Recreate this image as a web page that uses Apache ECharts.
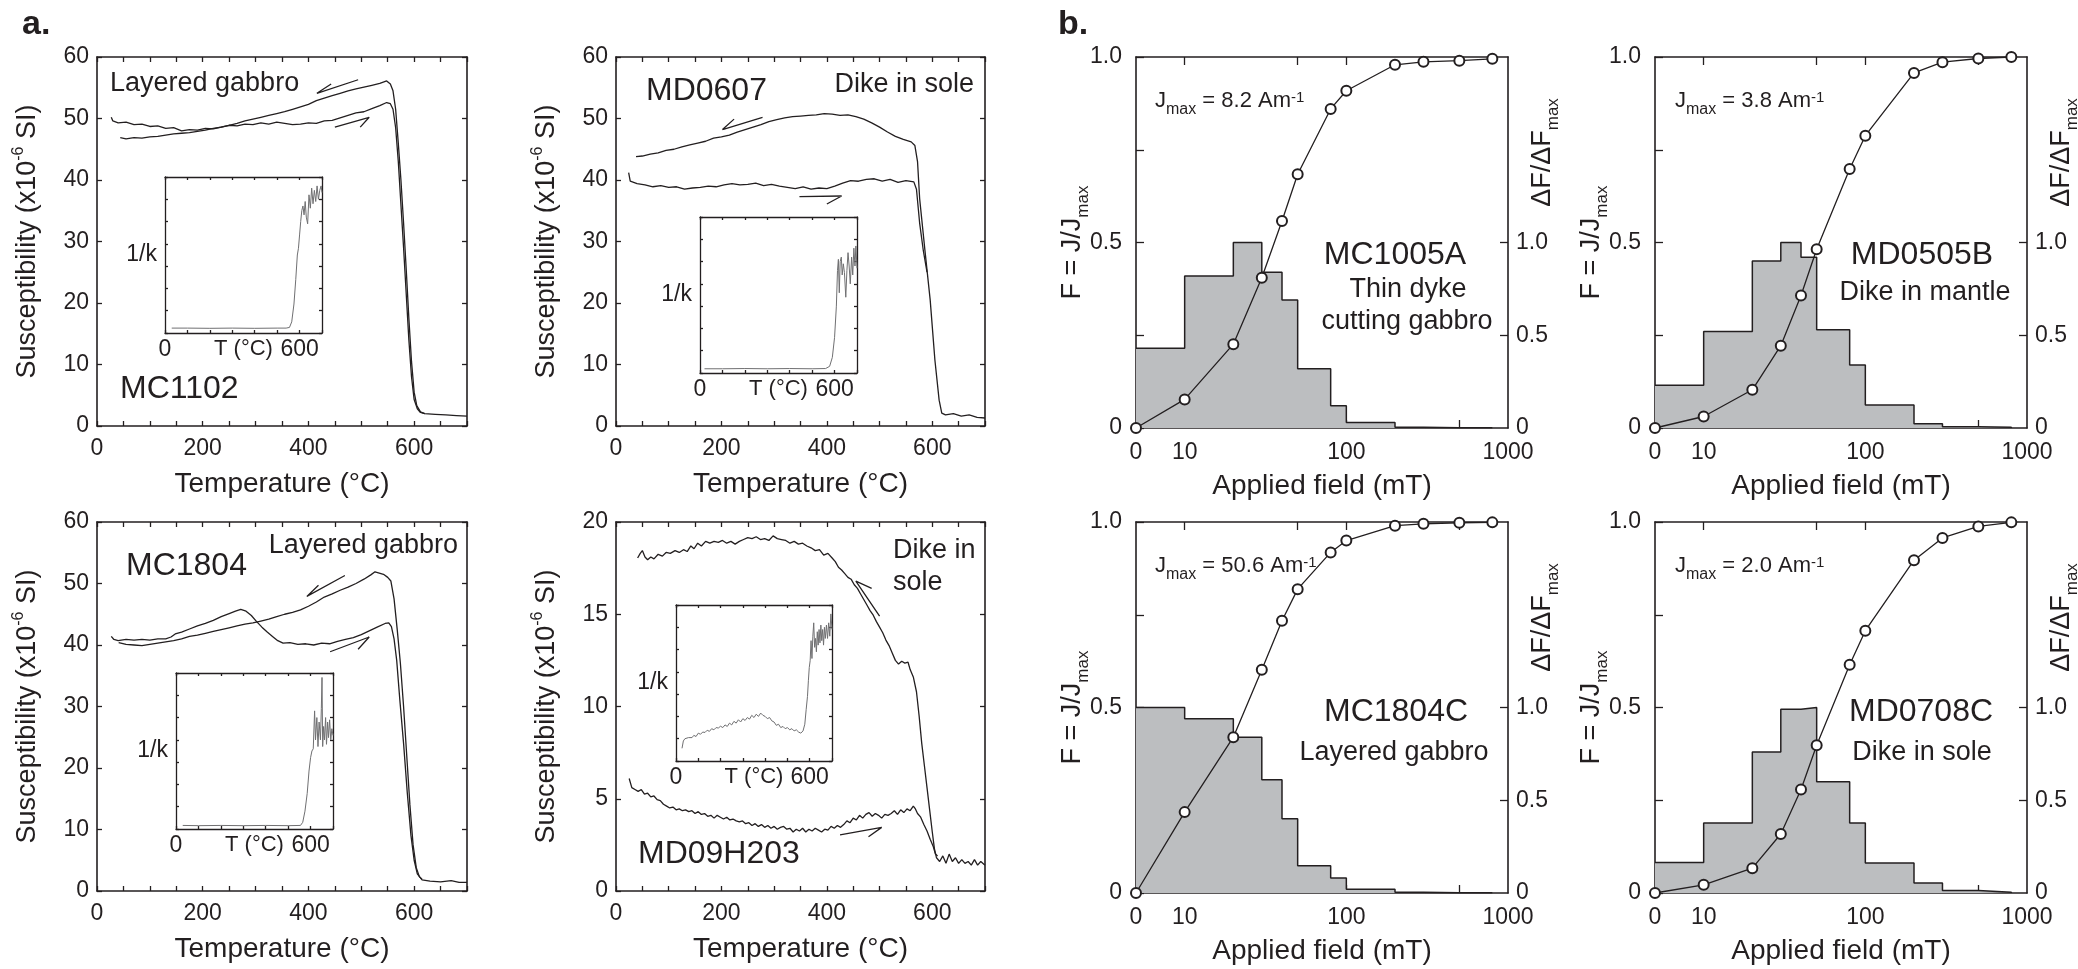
<!DOCTYPE html>
<html>
<head>
<meta charset="utf-8">
<title>Thermomagnetic curves and IRM acquisition</title>
<script src="https://cdn.jsdelivr.net/npm/echarts@6.0.0/dist/echarts.min.js"></script>
<style>
  html, body { margin: 0; padding: 0; background: #fff; }
  #chart { width: 2078px; height: 969px; }
</style>
</head>
<body>
<div id="chart"></div>
<script>
// ---------- a. susceptibility vs temperature (T in °C, k in 1e-6 SI) ----------
const heatMC1102 = [[27,50.2],[30,49.6],[40,49.3],[55,49.4],[70,49.0],[85,49.1],[100,48.7],[115,48.8],[130,48.4],[145,48.5],[160,48.0],[175,48.2],[190,48.1],[205,48.4],[220,48.3],[235,48.6],[250,48.9],[265,48.8],[280,49.1],[295,49.0],[310,49.3],[325,49.1],[340,49.4],[355,49.2],[370,49.0],[385,49.1],[400,49.3],[415,49.2],[430,49.6],[445,49.7],[460,50.1],[475,50.5],[490,50.9],[505,51.1],[520,51.6],[535,52.1],[548,52.6],[555,52.4],[560,51.5],[565,48.5],[570,43],[575,36],[580,29],[585,21.5],[590,14],[595,8],[600,4.3],[606,2.8],[612,2.2],[620,2.0],[640,1.9],[660,1.8],[680,1.7],[700,1.6]];
const coolMC1102 = [[44,46.9],[55,46.7],[70,46.9],[85,46.8],[100,47.0],[115,47.1],[130,47.3],[145,47.5],[160,47.6],[175,47.7],[190,47.9],[205,48.1],[220,48.4],[235,48.6],[250,48.9],[265,49.2],[280,49.6],[295,49.9],[310,50.2],[325,50.5],[340,50.8],[355,51.1],[370,51.5],[385,51.9],[400,52.3],[415,52.9],[430,53.3],[445,53.7],[460,54.1],[475,54.5],[490,54.8],[505,55.1],[520,55.4],[535,55.7],[548,56.1],[555,55.6],[560,54.5],[565,51.5],[570,46],[575,40],[580,33],[585,25.5],[590,17.5],[595,10.5],[600,5.5],[605,3.3],[612,2.3],[620,2.0]];
const invMC1102 = [[30,0.22],[100,0.22],[200,0.21],[300,0.22],[400,0.21],[500,0.22],[540,0.22],[555,0.25],[565,0.5],[575,1.3],[583,2.4],[590,3.5],[595,3.8],[600,4.4],[605,5.0],[610,5.5],[615,5.7],[620,5.3],[625,5.9],[630,5.2],[636,4.9],[642,6.2],[648,5.6],[654,6.5],[660,5.8],[666,6.4],[672,5.9],[678,6.6],[684,6.0],[690,6.4],[696,6.6],[700,6.3]];

const coolMD0607 = [[38,43.8],[50,43.9],[65,44.2],[80,44.4],[95,44.8],[110,45.0],[125,45.4],[140,45.7],[155,46.0],[170,46.3],[185,46.8],[200,47.0],[215,47.3],[230,47.8],[245,48.2],[260,48.6],[275,49.0],[290,49.5],[305,49.8],[320,50.1],[335,50.3],[350,50.4],[365,50.5],[380,50.6],[395,50.8],[410,50.7],[425,50.5],[440,50.6],[455,50.3],[470,49.9],[485,49.3],[500,48.6],[515,47.8],[530,47.1],[545,46.6],[560,46.2],[567,45.6],[572,43],[576,37],[586,28.6],[596,20.5],[605,10.7],[613,4.2],[618,2.1],[625,1.8],[640,2.0],[655,1.6],[670,1.8],[685,1.4],[700,1.3]];
const heatMD0607 = [[24,41.2],[27,39.8],[40,39.4],[55,39.2],[70,38.9],[85,39.1],[100,38.8],[115,38.9],[130,38.5],[145,38.7],[160,38.8],[175,39.0],[190,38.9],[205,39.2],[220,39.4],[235,39.2],[250,39.3],[265,39.5],[280,39.1],[295,39.3],[310,39.0],[325,38.8],[340,38.6],[355,38.9],[370,38.5],[385,38.7],[400,38.6],[415,39.0],[430,39.5],[445,39.9],[460,39.8],[475,40.1],[490,40.2],[505,39.8],[520,40.1],[535,39.6],[550,39.9],[565,39.7],[570,38.5],[576,33],[583,28.5],[590,25]];
const invMD0607 = [[20,0.19],[100,0.19],[200,0.2],[300,0.19],[400,0.2],[500,0.19],[560,0.2],[578,0.3],[590,0.7],[600,1.6],[608,3.0],[613,4.6],[617,5.1],[621,3.6],[625,5.0],[630,5.2],[634,4.4],[639,4.9],[644,4.5],[650,3.4],[655,4.6],[660,5.4],[665,4.8],[670,4.0],[676,5.2],[681,4.4],[686,5.6],[691,4.8],[695,5.7],[700,4.7]];

const heatMC1804 = [[27,41.4],[32,40.9],[40,40.7],[55,40.9],[70,40.8],[85,40.9],[100,40.8],[115,41.0],[130,41.0],[140,41.3],[148,41.8],[160,42.1],[175,42.6],[190,43.1],[205,43.5],[220,44.0],[235,44.6],[250,45.1],[262,45.5],[272,45.8],[282,45.5],[292,44.8],[302,43.8],[312,42.9],[322,42.1],[332,41.4],[342,40.7],[352,40.3],[365,40.4],[380,40.1],[395,40.2],[410,40.0],[425,40.3],[440,40.2],[455,40.6],[470,40.9],[485,41.2],[500,41.7],[515,42.3],[530,42.9],[545,43.5],[552,43.6],[557,43.0],[562,41.0],[567,37.5],[573,31],[580,24],[587,16],[594,9],[600,5],[606,2.8],[615,1.8],[630,1.6],[650,1.5],[670,1.7],[685,1.4],[700,1.4]];
const coolMC1804 = [[41,40.4],[55,40.1],[70,40.0],[85,39.9],[100,40.1],[115,40.3],[130,40.5],[145,40.7],[160,41.0],[175,41.4],[190,41.6],[205,41.9],[220,42.2],[235,42.5],[250,42.8],[265,43.1],[280,43.4],[295,43.6],[310,43.9],[325,44.2],[340,44.6],[355,45.0],[370,45.3],[385,45.7],[400,46.3],[415,47.0],[430,47.8],[445,48.3],[460,48.9],[475,49.4],[490,50.0],[505,50.7],[518,51.4],[526,51.9],[534,51.7],[542,51.5],[550,51.0],[556,50.4],[562,47.5],[568,42.5],[574,37],[580,30],[586,22],[592,14],[598,7.5],[604,3.8],[610,2.3],[615,1.9]];
const invMC1804 = [[30,0.16],[100,0.15],[200,0.16],[300,0.15],[400,0.16],[500,0.15],[555,0.16],[565,0.3],[575,0.8],[585,1.6],[593,2.6],[600,3.2],[606,3.5],[612,3.6],[618,5.3],[622,4.0],[628,5.0],[633,3.7],[638,4.8],[644,4.0],[648,5.4],[651,6.8],[654,3.7],[658,4.6],[662,4.0],[667,5.0],[671,3.8],[676,4.8],[680,4.1],[685,4.9],[690,4.0],[695,4.5],[700,4.2]];

const coolMD09H203 = [[41,18.05],[46,18.3],[50,18.45],[55,18.1],[60,17.95],[66,18.1],[72,18.0],[80,18.25],[88,18.15],[95,18.35],[103,18.3],[112,18.45],[120,18.35],[128,18.5],[135,18.4],[142,18.7],[148,18.55],[155,18.85],[162,18.7],[170,18.95],[178,18.85],[186,18.95],[194,18.9],[202,19.0],[210,18.85],[218,18.95],[226,18.8],[234,18.95],[242,19.05],[250,19.15],[258,19.1],[266,19.2],[274,19.05],[282,19.1],[290,19.0],[298,19.25],[306,19.1],[314,19.05],[322,19.0],[330,18.85],[338,18.95],[346,18.8],[354,18.85],[362,18.7],[370,18.6],[378,18.45],[386,18.5],[394,18.2],[402,18.3],[410,18.05],[416,17.85],[422,17.55],[428,17.4],[434,17.2],[440,17.0],[446,16.9],[452,16.6],[458,16.4],[464,16.1],[470,15.8],[476,15.5],[482,15.2],[488,14.95],[494,14.6],[500,14.3],[506,14.0],[512,13.6],[518,13.3],[524,12.9],[530,12.5],[536,12.3],[542,12.45],[548,12.35],[554,12.4],[558,12.0],[564,11.6],[570,10.8],[575,9.5],[580,8.0],[585,6.8],[590,5.6],[595,4.4],[600,3.2],[604,2.3],[608,1.8],[614,1.6],[620,1.9],[626,1.5],[632,2.0],[638,1.6],[644,1.8],[650,1.5],[656,1.7],[662,1.5],[668,1.6],[674,1.4],[680,1.7],[686,1.4],[692,1.6],[700,1.4]];
const heatMD09H203 = [[25,6.1],[30,5.6],[36,5.5],[42,5.4],[48,5.5],[54,5.25],[60,5.3],[66,5.1],[72,5.15],[78,4.95],[84,4.9],[90,4.7],[96,4.6],[102,4.5],[108,4.55],[114,4.4],[120,4.45],[126,4.35],[132,4.4],[138,4.3],[144,4.35],[150,4.2],[156,4.3],[162,4.15],[168,4.2],[174,4.05],[180,4.1],[186,3.95],[192,4.1],[198,4.0],[204,3.9],[210,4.0],[216,3.85],[222,3.9],[228,3.8],[234,3.75],[240,3.8],[246,3.65],[252,3.7],[258,3.55],[264,3.65],[270,3.5],[276,3.6],[282,3.45],[288,3.55],[294,3.4],[300,3.5],[306,3.35],[312,3.45],[318,3.5],[324,3.35],[330,3.4],[336,3.2],[342,3.35],[348,3.25],[354,3.4],[360,3.2],[366,3.35],[372,3.25],[378,3.4],[384,3.3],[390,3.2],[396,3.35],[402,3.3],[408,3.5],[414,3.4],[420,3.55],[426,3.45],[432,3.6],[438,3.8],[444,3.7],[450,3.95],[456,3.85],[462,4.1],[468,3.95],[474,4.15],[480,4.25],[486,4.05],[492,4.2],[498,4.1],[504,3.95],[510,4.15],[516,4.1],[522,4.2],[528,4.35],[534,4.15],[540,4.4],[546,4.25],[552,4.45],[558,4.35],[564,4.6],[568,4.45],[572,4.2],[578,4.0],[584,3.6],[590,3.25],[596,2.8],[602,2.4],[606,2.0],[610,1.9]];
const invMD09H203 = [[27,0.57],[33,0.9],[40,1.0],[48,0.95],[56,1.05],[64,1.1],[72,1.05],[80,1.15],[90,1.1],[100,1.25],[110,1.2],[120,1.3],[130,1.28],[140,1.38],[150,1.33],[160,1.45],[170,1.4],[180,1.5],[190,1.48],[200,1.56],[210,1.5],[220,1.62],[230,1.55],[240,1.7],[250,1.62],[260,1.78],[270,1.7],[280,1.85],[290,1.75],[300,1.9],[310,1.82],[320,1.95],[330,1.88],[340,2.05],[350,1.95],[360,2.1],[370,2.0],[380,2.15],[390,2.05],[400,2.0],[410,1.9],[420,1.95],[430,1.8],[440,1.75],[450,1.6],[460,1.65],[470,1.5],[480,1.55],[490,1.45],[500,1.5],[510,1.4],[520,1.45],[530,1.35],[540,1.4],[550,1.3],[560,1.25],[570,1.35],[578,1.65],[584,2.3],[590,2.9],[594,3.6],[598,4.2],[602,4.5],[606,5.4],[610,4.6],[614,5.6],[618,6.2],[622,5.1],[626,5.5],[630,4.9],[634,5.8],[638,5.2],[642,5.9],[646,5.3],[650,6.1],[654,5.4],[658,5.9],[662,5.2],[666,6.0],[670,5.5],[675,6.1],[680,5.5],[685,6.2],[690,5.6],[695,6.6],[700,5.9]];

// heating / cooling half-arrows: [barb end, tip, tail] in data units
const arrowsMC1102 = [[[443,55.6],[416,54.1],[494,56.3]], [[498,48.6],[515,50.2],[450,48.6]]];
const arrowsMD0607 = [[[224,49.9],[202,48.2],[278,50.2]], [[400,36.1],[428,37.4],[348,37.3]]];
const arrowsMC1804 = [[[419,49.7],[397,47.9],[469,51.3]], [[494,39.3],[515,41.3],[441,38.9]]];
const arrowsMD09H203 = [[[485,16.4],[455,16.8],[500,14.9]], [[479,2.94],[504,3.45],[425,3.04]]];

// ---------- b. IRM acquisition (field in mT) ----------
const FIELD_ZERO = 5;                       // where "0" sits on the log axis
const fieldLevels = [0, 10, 20, 30, 40, 50, 80, 100, 200, 300, 500, 800];
const fieldTickLabels = [FIELD_ZERO, 10, 100, 1000];
const fieldTicks = [10, 50, 100, 500];

const fMC1005A = [0, 0.077, 0.226, 0.405, 0.558, 0.684, 0.86, 0.909, 0.979, 0.987, 0.99, 0.995];
const histMC1005A = [0.43, 0.82, 1.0, 0.84, 0.69, 0.32, 0.12, 0.03, 0.004, 0.002, 0.001];
const fMD0505B = [0, 0.031, 0.103, 0.222, 0.357, 0.482, 0.698, 0.788, 0.957, 0.986, 0.996, 1.0];
const histMD0505B = [0.23, 0.52, 0.90, 1.0, 0.92, 0.53, 0.34, 0.124, 0.023, 0.007, 0.004];
const fMC1804C = [0, 0.218, 0.42, 0.602, 0.734, 0.819, 0.918, 0.95, 0.99, 0.995, 0.998, 0.999];
const histMC1804C = [1.0, 0.94, 0.84, 0.61, 0.40, 0.147, 0.081, 0.02, 0.004, 0.002, 0.001];
const fMD0708C = [0, 0.022, 0.067, 0.159, 0.279, 0.398, 0.615, 0.707, 0.897, 0.957, 0.988, 0.999];
const histMD0708C = [0.165, 0.377, 0.76, 0.99, 1.0, 0.60, 0.377, 0.162, 0.054, 0.014, 0.004];

const INK = '#231f20';
const FONT = '"Liberation Sans", Arial, Helvetica, sans-serif';

const grids = [];
const xAxes = [];
const yAxes = [];
const series = [];

const frameLine = w => ({ onZero: false, lineStyle: { color: INK, width: w } });
const axisLine = frameLine(1.6);
const noSplit = { show: false };
const noLabel = { show: false };
const tickIn = (len, extra) => Object.assign({ inside: true, length: len, lineStyle: { color: INK, width: 1.3 } }, extra || {});
const labelStyle = (margin, extra) => Object.assign({ color: INK, fontFamily: FONT, fontSize: 23, margin }, extra || {});
const titleStyle = (size, extra) => Object.assign({ color: INK, fontFamily: FONT, fontSize: size }, extra || {});

function addGrid(box, inset) {
  grids.push({
    left: box[0], top: box[1], width: box[2], height: box[3],
    show: !!inset, backgroundColor: '#fff', borderWidth: 0, outerBoundsMode: 'none'
  });
  return grids.length - 1;
}

function lineSeries(xi, yi, data, color, width) {
  return {
    type: 'line', xAxisIndex: xi, yAxisIndex: yi, data,
    symbol: 'none', silent: true, lineStyle: { color, width }
  };
}

function addTempPanel(box, yMax, yStep, curves, arrows) {
  const g = addGrid(box);
  const xi = xAxes.length;
  xAxes.push({
    gridIndex: g, type: 'value', position: 'bottom', min: 0, max: 700, interval: 50,
    axisLine, axisTick: tickIn(5), splitLine: noSplit,
    axisLabel: labelStyle(11, { formatter: v => (v % 200 === 0 ? String(v) : '') }),
    name: 'Temperature (°C)', nameLocation: 'middle', nameGap: 44, nameMoveOverlap: false,
    nameTextStyle: titleStyle(28)
  });
  xAxes.push({
    gridIndex: g, type: 'value', position: 'top', min: 0, max: 700, interval: 50,
    axisLine, axisTick: tickIn(5), splitLine: noSplit, axisLabel: noLabel
  });
  const yi = yAxes.length;
  yAxes.push({
    gridIndex: g, type: 'value', position: 'left', min: 0, max: yMax, interval: yStep,
    axisLine, axisTick: tickIn(5), splitLine: noSplit, axisLabel: labelStyle(8),
    name: 'Susceptibility (x10{sup|-6} SI)', nameLocation: 'middle', nameGap: 52, nameMoveOverlap: false,
    nameTextStyle: titleStyle(27, {
      lineHeight: 34,
      rich: { sup: { fontFamily: FONT, fontSize: 16, color: INK, verticalAlign: 'top' } }
    })
  });
  yAxes.push({
    gridIndex: g, type: 'value', position: 'right', min: 0, max: yMax, interval: yStep,
    axisLine, axisTick: tickIn(5), splitLine: noSplit, axisLabel: noLabel
  });
  curves.forEach(d => series.push(lineSeries(xi, yi, d, INK, 1.3)));
  arrows.forEach(d => series.push(lineSeries(xi, yi, d, INK, 1.3)));
}

function addInset(box, data) {
  const g = addGrid(box, true);
  const thin = frameLine(1.3);
  const xi = xAxes.length;
  xAxes.push({
    gridIndex: g, type: 'value', position: 'bottom', min: 0, max: 700, interval: 100,
    axisLine: thin, axisTick: tickIn(3), splitLine: noSplit,
    axisLabel: labelStyle(5, { customValues: [0, 600] }),
    name: 'T (°C)', nameLocation: 'middle', nameGap: 5, nameMoveOverlap: false,
    nameTextStyle: titleStyle(22)
  });
  xAxes.push({
    gridIndex: g, type: 'value', position: 'top', min: 0, max: 700, interval: 100,
    axisLine: thin, axisTick: tickIn(3), splitLine: noSplit, axisLabel: noLabel
  });
  const yi = yAxes.length;
  yAxes.push({
    gridIndex: g, type: 'value', position: 'left', min: 0, max: 7, interval: 1,
    axisLine: thin, axisTick: tickIn(3), splitLine: noSplit, axisLabel: noLabel,
    name: '1/k', nameLocation: 'middle', nameRotate: 0, nameGap: 8, nameMoveOverlap: false,
    nameTextStyle: titleStyle(23)
  });
  yAxes.push({
    gridIndex: g, type: 'value', position: 'right', min: 0, max: 7, interval: 1,
    axisLine: thin, axisTick: tickIn(3), splitLine: noSplit, axisLabel: noLabel
  });
  series.push(lineSeries(xi, yi, data, '#707072', 1));
}

const fieldLabelFmt = v => (Math.round(v) === FIELD_ZERO ? '0' : String(Math.round(v)));
const fracFmt = v => (v === 1 ? '1.0' : String(v));
const subRich = { sub: { fontFamily: FONT, fontSize: 17, color: INK, verticalAlign: 'bottom' } };

function addFieldPanel(box, fVals, hist) {
  const g = addGrid(box);
  const xi = xAxes.length;
  ['bottom', 'top'].forEach(pos => {
    xAxes.push(Object.assign({
      gridIndex: g, type: 'log', logBase: 10, position: pos, min: FIELD_ZERO, max: 1000,
      axisLine, axisTick: tickIn(8, { customValues: fieldTicks }), minorTick: { show: false },
      splitLine: noSplit,
      axisLabel: pos === 'bottom'
        ? labelStyle(13, { customValues: fieldTickLabels, formatter: fieldLabelFmt })
        : noLabel
    }, pos === 'bottom' ? {
      name: 'Applied field (mT)', nameLocation: 'middle', nameGap: 44, nameMoveOverlap: false,
      nameTextStyle: titleStyle(28)
    } : {}));
  });
  const yi = yAxes.length;
  yAxes.push({
    gridIndex: g, type: 'value', position: 'left', min: 0, max: 1, interval: 0.25,
    axisLine, axisTick: tickIn(8), splitLine: noSplit,
    axisLabel: labelStyle(14, { customValues: [0, 0.5, 1], formatter: fracFmt }),
    name: 'F = J/J{sub|max}', nameLocation: 'middle', nameGap: 44, nameMoveOverlap: false,
    nameTextStyle: titleStyle(27, { lineHeight: 38, rich: subRich })
  });
  yAxes.push({
    gridIndex: g, type: 'value', position: 'right', min: 0, max: 2, interval: 0.5,
    axisLine, axisTick: tickIn(8, { customValues: [0.5, 1] }), splitLine: noSplit,
    axisLabel: labelStyle(8, { customValues: [0, 0.5, 1], formatter: fracFmt }),
    name: 'ΔF/ΔF{sub|max}', nameLocation: 'middle', nameGap: 16, nameMoveOverlap: false,
    nameTextStyle: titleStyle(27, { lineHeight: 38, rich: subRich, padding: [0, 0, 0, 180] })
  });
  const xs = fieldLevels.map(f => (f === 0 ? FIELD_ZERO : f));
  series.push({
    type: 'line', step: 'end', xAxisIndex: xi, yAxisIndex: yi + 1, silent: true,
    data: xs.map((x, i) => [x, i < hist.length ? hist[i] : 0]),
    symbol: 'none', lineStyle: { color: INK, width: 1.5 },
    areaStyle: { color: '#bcbec0', opacity: 1 }, z: 2
  });
  series.push({
    type: 'line', xAxisIndex: xi, yAxisIndex: yi, silent: true, clip: false,
    data: xs.map((x, i) => [x, fVals[i]]),
    symbol: 'circle', symbolSize: 10,
    itemStyle: { color: '#fff', borderColor: INK, borderWidth: 2 },
    lineStyle: { color: INK, width: 1.3 }, z: 3
  });
}

addTempPanel([97, 57, 370, 369], 60, 10, [heatMC1102, coolMC1102], arrowsMC1102);
addTempPanel([616, 57, 369, 369], 60, 10, [heatMD0607, coolMD0607], arrowsMD0607);
addTempPanel([97, 522, 370, 369], 60, 10, [heatMC1804, coolMC1804], arrowsMC1804);
addTempPanel([616, 522, 369, 369], 20, 5, [heatMD09H203, coolMD09H203], arrowsMD09H203);
addInset([165, 177, 157, 156], invMC1102);
addInset([700, 217, 157, 156], invMD0607);
addInset([176, 673, 157, 156], invMC1804);
addInset([676, 605, 156, 156], invMD09H203);
addFieldPanel([1136, 57, 372, 371], fMC1005A, histMC1005A);
addFieldPanel([1655, 57, 372, 371], fMD0505B, histMD0505B);
addFieldPanel([1136, 522, 372, 371], fMC1804C, histMC1804C);
addFieldPanel([1655, 522, 372, 371], fMD0708C, histMD0708C);

function note(x, y, text, size, align, bold) {
  return {
    type: 'text', x, y, z: 100, silent: true,
    style: {
      text, fill: INK, fontFamily: FONT, fontSize: size, fontWeight: bold ? 'bold' : 'normal',
      align: align || 'left', verticalAlign: 'middle'
    }
  };
}

function jmax(x, y, value) {
  return {
    type: 'text', x, y, z: 100, silent: true,
    style: {
      text: '{m|J}{s|max}{m| = ' + value + ' Am}{p|-1}',
      verticalAlign: 'middle',
      rich: {
        m: { fontFamily: FONT, fontSize: 22, fill: INK, lineHeight: 33 },
        s: { fontFamily: FONT, fontSize: 16, fill: INK, verticalAlign: 'bottom' },
        p: { fontFamily: FONT, fontSize: 15, fill: INK, verticalAlign: 'top', padding: [6, 0, 0, 0] }
      }
    }
  };
}

const graphics = [
  note(22, 25, 'a.', 34, 'left', true),
  note(1058, 25, 'b.', 34, 'left', true),
  note(110, 83.5, 'Layered gabbro', 27),
  note(120, 389, 'MC1102', 32),
  note(646, 91, 'MD0607', 32),
  note(974, 84.5, 'Dike in sole', 27, 'right'),
  note(126, 566, 'MC1804', 32),
  note(458, 545.5, 'Layered gabbro', 27, 'right'),
  note(893, 550.5, 'Dike in', 27),
  note(893, 582.5, 'sole', 27),
  note(638, 854, 'MD09H203', 32),
  jmax(1155, 101, '8.2'),
  jmax(1675, 101, '3.8'),
  jmax(1155, 566, '50.6'),
  jmax(1675, 566, '2.0'),
  note(1395, 255, 'MC1005A', 32, 'center'),
  note(1408, 290, 'Thin dyke', 27, 'center'),
  note(1407, 322, 'cutting gabbro', 27, 'center'),
  note(1922, 255, 'MD0505B', 32, 'center'),
  note(1925, 292.5, 'Dike in mantle', 27, 'center'),
  note(1396, 712, 'MC1804C', 32, 'center'),
  note(1394, 752.5, 'Layered gabbro', 27, 'center'),
  note(1921, 712, 'MD0708C', 32, 'center'),
  note(1922, 752.5, 'Dike in sole', 27, 'center')
];

const chart = echarts.init(document.getElementById('chart'), null, { renderer: 'canvas' });
chart.setOption({
  animation: false,
  backgroundColor: '#fff',
  textStyle: { fontFamily: FONT, color: INK },
  grid: grids,
  xAxis: xAxes,
  yAxis: yAxes,
  series,
  graphic: graphics
});
</script>
</body>
</html>
